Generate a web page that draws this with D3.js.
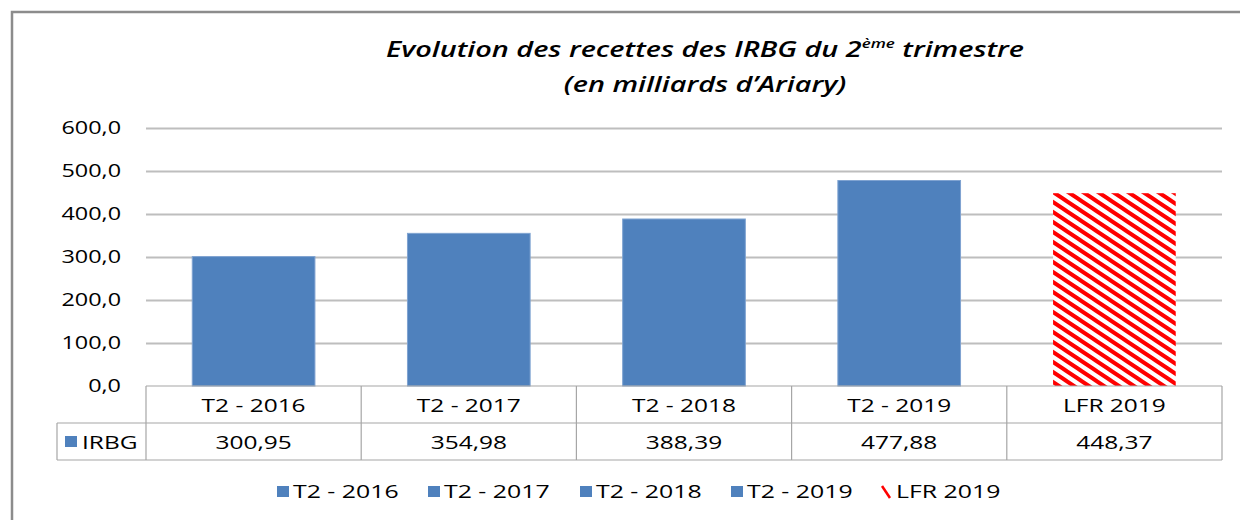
<!DOCTYPE html>
<html>
<head>
<meta charset="utf-8">
<script src="https://cdn.jsdelivr.net/npm/d3@7"></script>
<style>
  body { margin: 0; background: #fff; }
  svg text { font-family: "Open Sans", sans-serif; fill: #000; }
</style>
</head>
<body>
<div id="chart"></div>
<script>
// DATA
var categories = ['T2 - 2016', 'T2 - 2017', 'T2 - 2018', 'T2 - 2019', 'LFR 2019'];
var values = [300.95, 354.98, 388.39, 477.88, 448.37];
var valueLabels = ['300,95', '354,98', '388,39', '477,88', '448,37'];
var hatched = [false, false, false, false, true];
var yTicks = [0, 100, 200, 300, 400, 500, 600];
var seriesName = 'IRBG';

// SETTINGS
var settings = {
   width: 1240,
   height: 520,
   plot: { left: 146, right: 1222, top: 128, bottom: 386 },
   rowHeight: 37,
   headerLeft: 57,
   stretch: 1.3,   // SOURCE IMAGE IS STRETCHED SIDEWAYS
   blue: '#4F81BD',
   red: '#FF0000',
   grid: '#BEBEBE',
   table: '#A6A6A6'
}

var svg = d3.select('#chart').append('svg')
   .attr('width', settings.width)
   .attr('height', settings.height)

// TEXT HELPER -- WIDENED GLYPHS
function label(parent, x, y, txt, anchor, sx) {
   return parent.append('text')
      .attr('transform', 'translate(' + x + ',' + y + ') scale(' + (sx || settings.stretch) + ',1)')
      .attr('text-anchor', anchor || 'start')
      .style('font-size', '18px')
      .text(txt)
}

// HATCH PATTERN
var defs = svg.append('defs');
var pat = defs.append('pattern')
   .attr('id', 'hatch')
   .attr('patternUnits', 'userSpaceOnUse')
   .attr('width', 15)
   .attr('height', 10)
pat.append('rect').attr('width', 15).attr('height', 10).attr('fill', '#fff')
pat.append('path')
   .attr('d', 'M-15,-10 L30,20 M-15,0 L15,20 M0,-10 L30,10')
   .attr('stroke', settings.red)
   .attr('stroke-width', 4)

// OUTER FRAME
svg.append('path')
   .attr('d', 'M12,' + settings.height + ' L12,12 L' + settings.width + ',12')
   .attr('fill', 'none')
   .attr('stroke', '#8C8C8C')
   .attr('stroke-width', 2.5)

// TITLE
var title = svg.append('text')
   .attr('transform', 'translate(705,57) scale(1.31,1)')
   .attr('text-anchor', 'middle')
   .style('font-size', '22px')
   .style('font-style', 'italic')
   .style('font-weight', 600)
title.append('tspan').text('Evolution des recettes des IRBG du 2')
title.append('tspan').attr('dy', -9).style('font-size', '13px').text('ème')
title.append('tspan').attr('dy', 9).text(' trimestre')
svg.append('text')
   .attr('transform', 'translate(705,92) scale(1.31,1)')
   .attr('text-anchor', 'middle')
   .style('font-size', '22px')
   .style('font-style', 'italic')
   .style('font-weight', 600)
   .text('(en milliards d\u2019Ariary)')

// SCALES
var y = d3.scaleLinear()
   .domain([0, 600])
   .range([settings.plot.bottom, settings.plot.top])

var x = d3.scaleBand()
   .domain(categories)
   .range([settings.plot.left, settings.plot.right])
   .paddingInner(0.43)
   .paddingOuter(0.215)

var xCell = d3.scaleBand()
   .domain(categories)
   .range([settings.plot.left, settings.plot.right])

// GRIDLINES
svg.append('g').selectAll('line').data(yTicks.filter(d => d > 0)).enter()
   .append('line')
   .attr('x1', settings.plot.left)
   .attr('x2', settings.plot.right)
   .attr('y1', d => Math.round(y(d)) + 0.5)
   .attr('y2', d => Math.round(y(d)) + 0.5)
   .attr('stroke', settings.grid)
   .attr('stroke-width', 2)

// Y AXIS LABELS
var fmt = d => d3.format('.1f')(d).replace('.', ',');
var yl = svg.append('g');
yTicks.forEach(d => label(yl, 121, y(d) + 6, fmt(d), 'end'));

// BARS
svg.append('g').selectAll('rect').data(values).enter()
   .append('rect')
   .attr('x', (d, i) => x(categories[i]))
   .attr('width', x.bandwidth())
   .attr('y', d => y(d))
   .attr('height', d => settings.plot.bottom - y(d))
   .attr('fill', (d, i) => hatched[i] ? 'url(#hatch)' : settings.blue)
   .attr('stroke', (d, i) => hatched[i] ? 'none' : '#7FA3D1')
   .attr('stroke-width', 1)

// DATA TABLE
var t = svg.append('g')
   .attr('stroke', settings.table)
   .attr('stroke-width', 1.2)
   .attr('fill', 'none')
var r0 = settings.plot.bottom, r1 = r0 + settings.rowHeight, r2 = r1 + settings.rowHeight;
t.append('line').attr('x1', settings.plot.left).attr('x2', settings.plot.right).attr('y1', r0).attr('y2', r0)
t.append('line').attr('x1', settings.headerLeft).attr('x2', settings.plot.right).attr('y1', r1).attr('y2', r1)
t.append('line').attr('x1', settings.headerLeft).attr('x2', settings.plot.right).attr('y1', r2).attr('y2', r2)
t.append('line').attr('x1', settings.headerLeft).attr('x2', settings.headerLeft).attr('y1', r1).attr('y2', r2)
t.selectAll('.v').data(categories).enter()
   .append('line')
   .attr('x1', d => xCell(d)).attr('x2', d => xCell(d))
   .attr('y1', r0).attr('y2', r2)
t.append('line').attr('x1', settings.plot.right).attr('x2', settings.plot.right).attr('y1', r0).attr('y2', r2)

var tl = svg.append('g');
categories.forEach((c, i) => {
   var cx = xCell(c) + xCell.bandwidth() / 2;
   label(tl, cx, r0 + 26, c, 'middle', 1.36);
   label(tl, cx, r1 + 26, valueLabels[i], 'middle', 1.36);
});

svg.append('rect')
   .attr('x', 65).attr('y', r1 + 13).attr('width', 12).attr('height', 11)
   .attr('fill', settings.blue)
label(svg, 82, r1 + 26, seriesName, 'start', 1.36);

// LEGEND
var legendX = [277, 428, 580, 731, 880];
var lg = svg.append('g');
categories.forEach((c, i) => {
   if (hatched[i]) {
      lg.append('path')
         .attr('d', 'M' + (legendX[i] + 2) + ',486 L' + (legendX[i] + 10) + ',498')
         .attr('stroke', settings.red)
         .attr('stroke-width', 2.5)
   } else {
      lg.append('rect')
         .attr('x', legendX[i]).attr('y', 486).attr('width', 12).attr('height', 11)
         .attr('fill', settings.blue)
   }
   label(lg, legendX[i] + 16, 498, c, 'start', 1.38);
});
</script>
</body>
</html>
